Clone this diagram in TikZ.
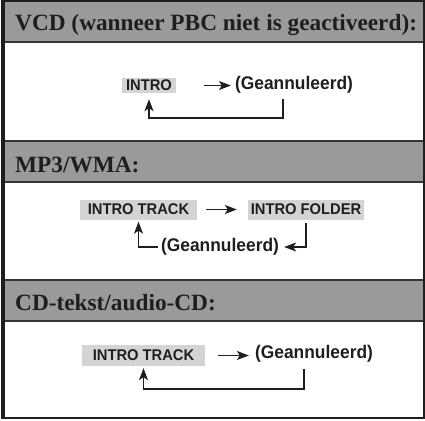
\documentclass[tikz,border=0pt]{standalone}
\usepackage{fontspec}
\setmainfont{Liberation Serif}
\newfontfamily\lsans[FakeStretch=0.95]{Liberation Sans}
\newfontfamily\lsansc[FakeStretch=0.95]{Liberation Sans}
\usetikzlibrary{arrows.meta}
\definecolor{hdrgray}{HTML}{9A9A9A}
\definecolor{boxgray}{HTML}{D4D4D4}
\definecolor{ink}{HTML}{1E1E1E}
\begin{document}
\begin{tikzpicture}[
  hdr/.style={anchor=base west, inner sep=0pt, font=\fontsize{23.3}{26}\selectfont\bfseries, text=ink},
  lbl/.style={fill=boxgray, text=ink, font=\lsans\fontsize{15.5}{18}\selectfont\bfseries, inner sep=0pt},
  canc/.style={text=ink, font=\lsansc\fontsize{18.3}{20}\selectfont\bfseries, inner sep=0pt},
  conn/.style={draw=ink, line width=1.3pt},
  arr/.style={conn, arrows={-Stealth[length=12pt,width=9pt,inset=3pt]}},
  hline/.style={draw=ink!90, line width=2pt},
]
\begin{scope}[x=1pt,y=-1pt]
\useasboundingbox (0,0) rectangle (425,420);
% header bands
\fill[hdrgray] (2,1) rectangle (423,42);
\fill[hdrgray] (2,141) rectangle (423,182);
\fill[hdrgray] (2,280) rectangle (423,321);
\draw[hline] (2,42) -- (423,42);
\draw[hline] (2,141) -- (423,141);
\draw[hline] (2,182) -- (423,182);
\draw[hline] (2,280) -- (423,280);
\draw[hline] (2,321) -- (423,321);
% outer frame
\draw[draw=ink, line width=2pt] (2,1) rectangle (423.5,418);
\draw[draw=ink, line width=4pt] (2.5,0) -- (2.5,419);

% header texts
\node[hdr] (h1) at (15,31) {VCD (wanneer PBC niet is geactiveerd):};
\node[hdr] (h2) at (15,172) {MP3/WMA:};
\node[hdr] (h3) at (15,310) {CD-tekst/audio-CD:};

% section 1
\node[lbl, minimum width=54pt, minimum height=15pt] (v1) at (149,85.5) {INTRO};
\node[canc] (c1) at (294,85) {(Geannuleerd)};
\coordinate (r1) at (283,118);

% section 2
\node[lbl, minimum width=117pt, minimum height=20pt] (b1) at (138.5,209.5) {INTRO TRACK};
\node[lbl, minimum width=116pt, minimum height=20pt] (b2) at (306,209.5) {INTRO FOLDER};
\node[canc] (c2) at (220,247) {(Geannuleerd)};

% section 3
\node[lbl, minimum width=123pt, minimum height=21pt] (b3) at (143.5,355.5) {INTRO TRACK};
\node[canc] (c3) at (314,354) {(Geannuleerd)};
\coordinate (r3) at (304,389);
\end{scope}

% connectors (drawn in the default, unflipped system)
\draw[arr, shorten <=28pt, shorten >=4pt] (v1.east) -- (v1.east -| c1.west);
\draw[arr, shorten >=6pt] ([xshift=-11pt,yshift=-5pt]c1.south) |- (r1) -| (v1.south);
\draw[arr, shorten <=9pt, shorten >=11pt] (b1.east) -- (b2.west);
\draw[arr, shorten >=5pt] ([yshift=-3pt]b2.south) |- (c2.east);
\draw[arr, shorten <=3pt, shorten >=2pt] (c2.west) -| (b1.south);
\draw[arr, shorten <=13pt, shorten >=6pt] (b3.east) -- (b3.east -| c3.west);
\draw[arr, shorten >=2pt] ([xshift=-10pt,yshift=-6pt]c3.south) |- (r3) -| (b3.south);
\end{tikzpicture}
\end{document}
